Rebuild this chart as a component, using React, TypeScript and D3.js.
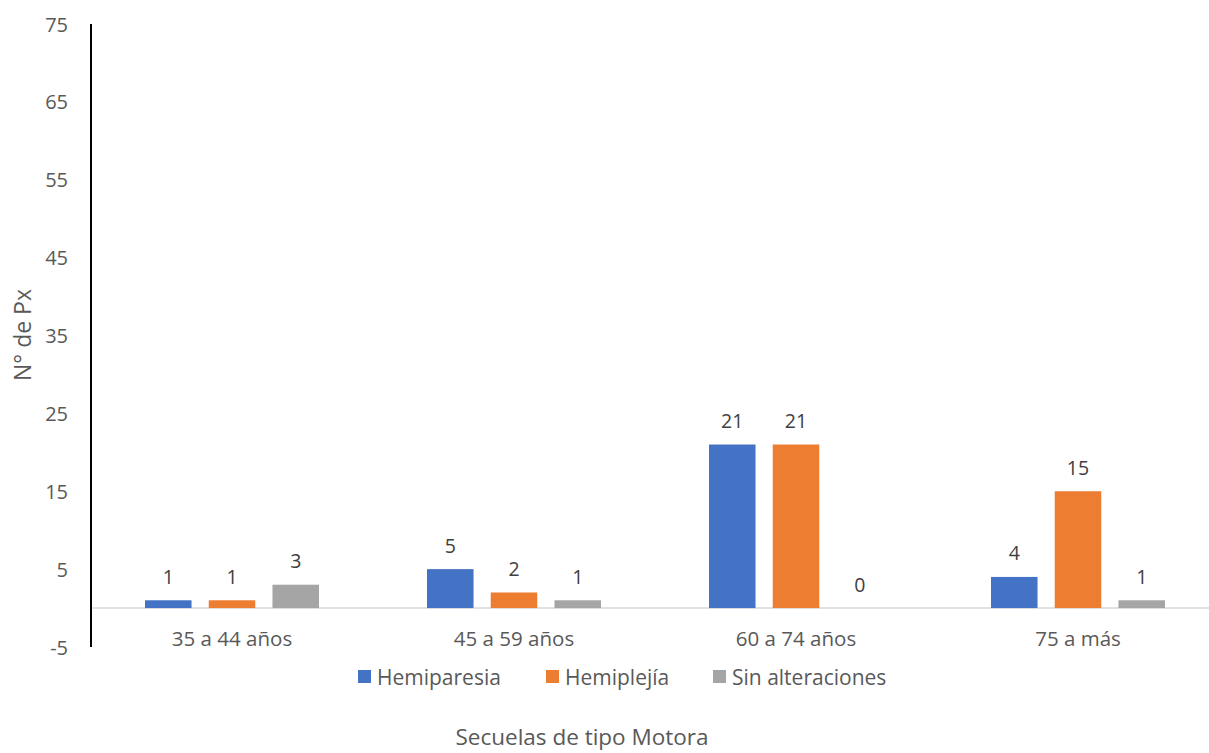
import React from "react";
import * as d3 from "d3";

const categories = ["35 a 44 años", "45 a 59 años", "60 a 74 años", "75 a más"];
const seriesNames = ["Hemiparesia", "Hemiplejía", "Sin alteraciones"];
const hemiparesia = [1, 5, 21, 4];
const hemiplejia = [1, 2, 21, 15];
const sinAlteraciones = [3, 1, 0, 1];
const seriesValues = [hemiparesia, hemiplejia, sinAlteraciones];
const colors = ["#4472C4", "#ED7D31", "#A5A5A5"];
const yTicks = [-5, 5, 15, 25, 35, 45, 55, 65, 75];

const W = 1209;
const H = 753;
const FONT = "'Open Sans', 'Noto Sans', sans-serif";

export default function App() {
  const x0 = d3.scaleBand<string>().domain(categories).range([91, 1219]).paddingInner(0).paddingOuter(0);
  const x1 = d3.scaleBand<string>().domain(seriesNames).range([54, 282 - 54]).paddingInner(0.27).paddingOuter(0);
  const y = d3.scaleLinear().domain([-5, 75]).range([647, 24]);
  const legendX = [358, 546, 713];

  return (
    <svg width={W} height={H} style={{ position: "absolute", left: 0, top: 0, background: "#fff" }} fontFamily={FONT}>
      <line x1={91} x2={W} y1={y(0)} y2={y(0)} stroke="#D9D9D9" strokeWidth={1.5} />
      <line x1={91} x2={91} y1={y(75)} y2={y(-5)} stroke="#000" strokeWidth={2} />
      {yTicks.map((t) => (
        <text key={t} x={68} y={y(t)} textAnchor="end" dominantBaseline="central" fontSize={20} fill="#595959">
          {t}
        </text>
      ))}
      {categories.map((c) => (
        <text key={c} x={(x0(c) as number) + x0.bandwidth() / 2} y={638} textAnchor="middle" dominantBaseline="central" fontSize={20.5} fill="#595959">
          {c}
        </text>
      ))}
      {categories.map((c, ci) => (
        <g key={c} transform={`translate(${x0(c)},0)`}>
          {seriesNames.map((s, si) => {
            const v = seriesValues[si][ci];
            const bx = x1(s) as number;
            const top = y(Math.max(v, 0));
            return (
              <g key={s}>
                <rect x={bx} y={top} width={x1.bandwidth()} height={Math.abs(y(0) - y(v))} fill={colors[si]} />
                <text x={bx + x1.bandwidth() / 2} y={top - 24} textAnchor="middle" dominantBaseline="central" fontSize={19.5} fill="#404040">
                  {v}
                </text>
              </g>
            );
          })}
        </g>
      ))}
      {seriesNames.map((s, i) => (
        <g key={s}>
          <rect x={legendX[i]} y={670} width={13} height={13} fill={colors[i]} />
          <text x={legendX[i] + 19} y={677} dominantBaseline="central" fontSize={21} fill="#595959">
            {s}
          </text>
        </g>
      ))}
      <text x={582} y={745} textAnchor="middle" fontSize={22.5} fill="#595959">
        Secuelas de tipo Motora
      </text>
      <text transform={`translate(22,335) rotate(-90)`} textAnchor="middle" dominantBaseline="central" fontSize={23} fill="#595959">
        N° de Px
      </text>
    </svg>
  );
}
